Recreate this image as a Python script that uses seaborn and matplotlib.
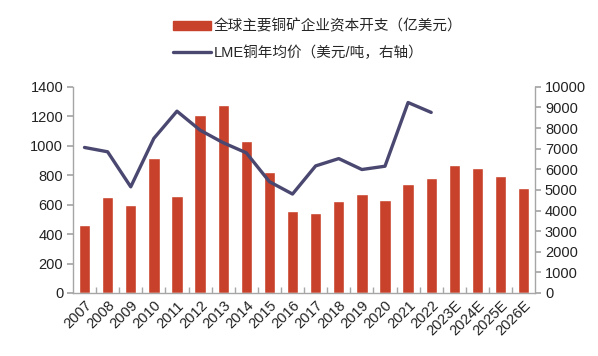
import numpy as np
import pandas as pd
import matplotlib
matplotlib.use("Agg")
import matplotlib.pyplot as plt
import seaborn as sns
from matplotlib.patches import Patch
from matplotlib.lines import Line2D

years = ["2007", "2008", "2009", "2010", "2011", "2012", "2013", "2014", "2015", "2016",
         "2017", "2018", "2019", "2020", "2021", "2022", "2023E", "2024E", "2025E", "2026E"]
capex = [460, 655, 595, 915, 660, 1212, 1278, 1030, 822, 560,
         546, 627, 673, 634, 741, 781, 868, 850, 795, 716]
price_years = ["2007", "2008", "2009", "2010", "2011", "2012", "2013", "2014", "2015", "2016",
               "2017", "2018", "2019", "2020", "2021", "2022"]
price = [7060, 6850, 5150, 7500, 8820, 7900, 7290, 6800, 5400, 4800,
         6165, 6520, 5990, 6150, 9240, 8760]

bar_label = "全球主要铜矿企业资本开支（亿美元）"
line_label = "LME铜年均价（美元/吨，右轴）"
bar_color = "#C8412A"
line_color = "#4A4870"
spine_color = "#A6A6A6"

sns.set_theme(style="white")
plt.rcParams["font.family"] = ["Liberation Sans", "Noto Sans CJK SC", "DejaVu Sans"]

fig = plt.figure(figsize=(5.98, 3.56), dpi=100)
ax = fig.add_axes([0.122, 0.177, 0.773, 0.579])

df_bar = pd.DataFrame({"year": years, "capex": capex})
sns.barplot(data=df_bar, x="year", y="capex", color=bar_color, width=0.49,
            saturation=1, ax=ax)

ax2 = ax.twinx()
pos = [years.index(y) for y in price_years]
df_line = pd.DataFrame({"pos": pos, "price": price})
sns.lineplot(data=df_line, x="pos", y="price", color=line_color, linewidth=2.4, ax=ax2)

ax.set_ylim(0, 1400)
ax.set_yticks(np.arange(0, 1401, 200))
ax2.set_ylim(0, 10000)
ax2.set_yticks(np.arange(0, 10001, 1000))
ax.set_xlim(-0.5, len(years) - 0.5)
ax2.set_xlim(-0.5, len(years) - 0.5)

for a in (ax, ax2):
    a.set_xlabel("")
    a.set_ylabel("")
    for s in ["left", "right", "bottom", "top"]:
        a.spines[s].set_color(spine_color)
        a.spines[s].set_linewidth(1.0)
    a.spines["top"].set_visible(False)
    a.grid(False)

ax.spines["right"].set_visible(False)
ax2.spines["left"].set_visible(False)
ax2.spines["bottom"].set_visible(False)

ax.tick_params(axis="y", which="both", left=True, length=4, color=spine_color,
               labelsize=10.5, labelcolor="#222222", pad=3, direction="out")
ax2.tick_params(axis="y", right=True, length=4, color=spine_color,
                labelsize=10.5, labelcolor="#222222", pad=3, direction="out")

ax.set_xticks(range(len(years)))
ax.set_xticklabels(years, rotation=45, ha="right", rotation_mode="anchor",
                   fontsize=10.5, color="#222222")
ax.tick_params(axis="x", which="major", length=0, pad=4)
ax.set_xticks(np.arange(0.5, len(years) - 0.5, 1), minor=True)
ax.tick_params(axis="x", which="minor", bottom=True, direction="in", length=4,
               color=spine_color)

handles = [Patch(facecolor=bar_color, edgecolor=bar_color),
           Line2D([0], [0], color=line_color, linewidth=2.4)]
fig.legend(handles, [bar_label, line_label], loc="upper left",
           bbox_to_anchor=(0.272, 0.975), frameon=False, fontsize=10.5,
           handlelength=2.6, handleheight=0.6, handletextpad=0.2,
           labelspacing=0.8, borderaxespad=0.3)

fig.savefig("out.png", dpi=100)
